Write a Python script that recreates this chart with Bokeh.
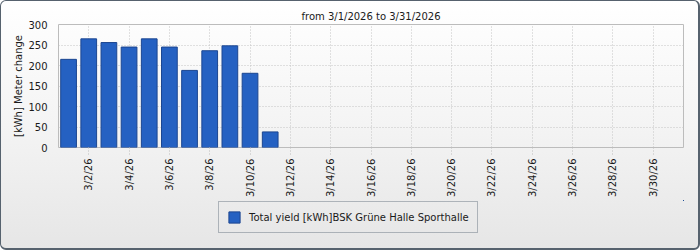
import math
from bokeh.plotting import figure
from bokeh.layouts import column
from bokeh.models import Range1d, FixedTicker, Legend, LegendItem, ColumnDataSource
from bokeh.embed import file_html
from bokeh.resources import INLINE

# ---- data ----
title_text = "from 3/1/2026 to 3/31/2026"
day_of_month = [1, 2, 3, 4, 5, 6, 7, 8, 9, 10, 11]
yield_kwh = [215, 265, 256, 245, 265, 245, 188, 236, 248, 181, 38]
tick_days = [2, 4, 6, 8, 10, 12, 14, 16, 18, 20, 22, 24, 26, 28, 30]
tick_labels = ["3/2/26", "3/4/26", "3/6/26", "3/8/26", "3/10/26", "3/12/26", "3/14/26",
               "3/16/26", "3/18/26", "3/20/26", "3/22/26", "3/24/26", "3/26/26",
               "3/28/26", "3/30/26"]
y_ticks = [0, 50, 100, 150, 200, 250, 300]
series_name = "Total yield [kWh]BSK Grüne Halle Sporthalle"
y_label = "[kWh] Meter change"

FONT = "DejaVu Sans"
FS = "10px"
BAR_FILL = "#2561c2"
BAR_LINE = "#1c4690"

src = ColumnDataSource(dict(day=day_of_month, kwh=yield_kwh))

p = figure(width=697, height=199, output_backend="svg", toolbar_location=None,
           x_range=Range1d(0.5, 31.5), y_range=Range1d(0, 300),
           min_border_left=57, min_border_right=15, min_border_top=23, min_border_bottom=52,
           title=title_text)
p.border_fill_alpha = 0
p.background_fill_alpha = 0
p.outline_line_color = "#bcbcbc"

p.title.align = "center"
p.title.text_font = FONT
p.title.text_font_size = FS
p.title.text_font_style = "normal"
p.title.text_color = "#1a1a1a"
p.title.standoff = 6

r = p.vbar(x="day", top="kwh", width=0.78, source=src,
           fill_color=BAR_FILL, line_color=BAR_LINE, line_width=1)

# axes
xa = p.xaxis[0]
xa.ticker = FixedTicker(ticks=tick_days)
xa.major_label_overrides = {d: l for d, l in zip(tick_days, tick_labels)}
xa.major_label_orientation = math.pi / 2
xa.axis_line_color = None
xa.major_tick_out = 7
xa.major_tick_in = 0
xa.major_tick_line_color = "#bdbdbd"
xa.major_tick_line_dash = "1 2"
xa.minor_tick_line_color = None
xa.major_label_standoff = 4
xa.major_label_text_font = FONT
xa.major_label_text_font_size = FS
xa.major_label_text_color = "#1a1a1a"

ya = p.yaxis[0]
ya.ticker = FixedTicker(ticks=y_ticks)
ya.axis_line_color = None
ya.major_tick_line_color = None
ya.minor_tick_line_color = None
ya.major_tick_out = 0
ya.major_tick_in = 0
ya.major_label_standoff = 11
ya.major_label_text_font = FONT
ya.major_label_text_font_size = FS
ya.major_label_text_color = "#1a1a1a"
ya.axis_label = y_label
ya.axis_label_text_font = FONT
ya.axis_label_text_font_size = FS
ya.axis_label_text_font_style = "normal"
ya.axis_label_text_color = "#1a1a1a"
ya.axis_label_standoff = 1

p.xgrid.grid_line_color = "#c4c4c4"
p.xgrid.grid_line_dash = "1 2"
p.ygrid.grid_line_color = "#c4c4c4"
p.ygrid.grid_line_dash = "1 2"

# legend strip below the chart (bars of the same data, kept far out of view)
lg = figure(width=697, height=48, output_backend="svg", toolbar_location=None,
            x_range=Range1d(-1000, -999), y_range=Range1d(-1000, -999),
            x_axis_location=None, y_axis_location=None, min_border=0)
lg.border_fill_alpha = 0
lg.background_fill_alpha = 0
lg.outline_line_color = None
lg.xgrid.visible = False
lg.ygrid.visible = False
r2 = lg.vbar(x="day", top="kwh", width=0.78, source=src,
             fill_color=BAR_FILL, line_color=BAR_LINE, line_width=1)

legend = Legend(items=[LegendItem(label=series_name, renderers=[r2])],
                location=(160, 15))
legend.label_text_font = FONT
legend.label_text_font_size = FS
legend.label_text_color = "#1a1a1a"
legend.glyph_width = 14
legend.glyph_height = 14
legend.label_standoff = 8
legend.padding = 8
legend.margin = 0
legend.border_line_color = "#6f7c88"
legend.border_line_width = 1
legend.background_fill_alpha = 0
lg.add_layout(legend, "center")

layout = column(p, lg, spacing=0)
layout.styles = {
    "border-left": "1px solid #56626e",
    "border-top": "1px solid #56626e",
    "border-right": "2px solid #56626e",
    "border-bottom": "2px solid #56626e",
    "border-radius": "6px",
    "background": "linear-gradient(to bottom, #ffffff 0%, #f4f4f4 50%, #e6e6e6 100%)",
}

open("out.html", "w").write(file_html(layout, INLINE))
